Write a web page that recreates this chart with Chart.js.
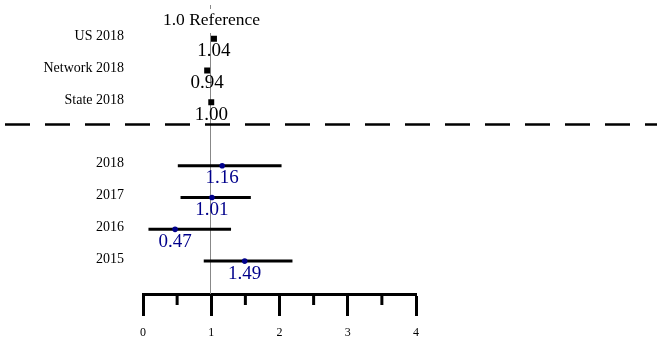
<!DOCTYPE html>
<html lang="en">
<head>
    <meta charset="UTF-8">
    <title>Forest plot</title>
    <script src="https://cdn.jsdelivr.net/npm/chart.js"></script>
    <style>
        html, body { margin: 0; padding: 0; background: #fff; }
        #wrap { width: 667px; height: 339px; }
    </style>
</head>
<body>
    <div id="wrap"><canvas id="forest"></canvas></div>

    <script>
        // Data
        const rowLabels = ['US 2018', 'Network 2018', 'State 2018', '2018', '2017', '2016', '2015'];
        const rowPos = [0, 1, 2, 4, 5, 6, 7];
        const estimates = [1.04, 0.94, 1.00, 1.16, 1.01, 0.47, 1.49];
        const lower = [null, null, null, 0.51, 0.55, 0.08, 0.89];
        const upper = [null, null, null, 2.03, 1.58, 1.29, 2.19];
        const isBenchmark = [true, true, true, false, false, false, false];
        const xTicks = [0, 1, 2, 3, 4];
        const referenceValue = 1.0;
        const separatorPos = 2.7;

        const NAVY = '#00008B';
        const SERIF = '"Liberation Serif", "DejaVu Serif", serif';

        // datasets
        const datasets = [];
        rowPos.forEach((pos, i) => {
            if (lower[i] === null) return;
            datasets.push({
                type: 'line',
                data: [{ x: lower[i], y: pos }, { x: upper[i], y: pos }],
                borderColor: '#000',
                borderWidth: 3,
                pointRadius: 0,
                showLine: true,
                order: 2
            });
        });
        datasets.push({
            data: rowPos.map((p, i) => ({ x: estimates[i], y: p })).filter((d, i) => isBenchmark[i]),
            pointStyle: 'rect',
            pointRadius: 4.2,
            backgroundColor: '#000',
            borderColor: '#000',
            borderWidth: 0,
            order: 1
        });
        datasets.push({
            data: rowPos.map((p, i) => ({ x: estimates[i], y: p })).filter((d, i) => !isBenchmark[i]),
            pointStyle: 'circle',
            pointRadius: 2.8,
            backgroundColor: NAVY,
            borderColor: NAVY,
            borderWidth: 0,
            order: 1
        });

        // extra drawing: reference line, separator, labels, minor ticks
        const forestDecor = {
            id: 'forestDecor',
            beforeDatasetsDraw(chart) {
                const c = chart.ctx;
                const xs = chart.scales.x, ys = chart.scales.y;
                const area = chart.chartArea;
                c.save();
                // reference line
                const rx = Math.round(xs.getPixelForValue(referenceValue)) - 0.5;
                c.strokeStyle = '#888';
                c.lineWidth = 1;
                c.beginPath();
                c.moveTo(rx, 5);
                c.lineTo(rx, area.bottom);
                c.stroke();
                // separator
                const sy = ys.getPixelForValue(separatorPos);
                c.strokeStyle = '#000';
                c.lineWidth = 2.5;
                c.setLineDash([25, 15]);
                c.beginPath();
                c.moveTo(5, sy);
                c.lineTo(657, sy);
                c.stroke();
                c.setLineDash([]);
                // reference label with white background
                c.font = '17.5px ' + SERIF;
                c.textAlign = 'center';
                c.textBaseline = 'middle';
                const txt = referenceValue.toFixed(1) + ' Reference';
                const w = c.measureText(txt).width;
                c.fillStyle = '#fff';
                c.fillRect(rx - w / 2 - 2, 9, w + 4, 24);
                c.fillStyle = '#000';
                c.fillText(txt, rx + 1, 20);
                // minor ticks
                c.lineWidth = 3;
                c.strokeStyle = '#000';
                for (let i = 0; i < xTicks.length - 1; i++) {
                    const mx = xs.getPixelForValue((xTicks[i] + xTicks[i + 1]) / 2);
                    c.beginPath();
                    c.moveTo(mx, area.bottom);
                    c.lineTo(mx, area.bottom + 11);
                    c.stroke();
                }
                c.restore();
            },
            afterDatasetsDraw(chart) {
                const c = chart.ctx;
                const xs = chart.scales.x, ys = chart.scales.y;
                c.save();
                c.textBaseline = 'middle';
                rowPos.forEach((pos, i) => {
                    const py = ys.getPixelForValue(pos);
                    c.font = '14px ' + SERIF;
                    c.textAlign = 'right';
                    c.fillStyle = '#000';
                    c.fillText(rowLabels[i], 124, py - 2);
                    c.font = '19px ' + SERIF;
                    c.textAlign = 'center';
                    c.fillStyle = isBenchmark[i] ? '#000' : NAVY;
                    c.fillText(estimates[i].toFixed(2), xs.getPixelForValue(estimates[i]), py + 12.5);
                });
                c.restore();
            }
        };

        const ctx = document.getElementById('forest').getContext('2d');
        const forestChart = new Chart(ctx, {
            type: 'scatter',
            data: { datasets: datasets },
            options: {
                responsive: true,
                maintainAspectRatio: false,
                animation: false,
                layout: { padding: { left: 143, right: 251, top: 0, bottom: 0 } },
                plugins: { legend: { display: false }, tooltip: { enabled: false } },
                scales: {
                    x: {
                        type: 'linear',
                        min: 0,
                        max: 4,
                        afterBuildTicks(scale) {
                            scale.ticks = xTicks.map(v => ({ value: v }));
                        },
                        afterFit(scale) {
                            scale.height = 45;
                        },
                        grid: {
                            drawOnChartArea: false,
                            drawTicks: true,
                            tickLength: 22,
                            tickWidth: 3,
                            tickColor: '#000'
                        },
                        border: { display: true, color: '#000', width: 3 },
                        ticks: {
                            color: '#000',
                            font: { family: SERIF, size: 12 },
                            padding: 10,
                            maxRotation: 0
                        }
                    },
                    y: {
                        type: 'linear',
                        display: false,
                        reverse: true,
                        min: -1.086,
                        max: 8.035
                    }
                }
            },
            plugins: [forestDecor]
        });
    </script>
</body>
</html>
